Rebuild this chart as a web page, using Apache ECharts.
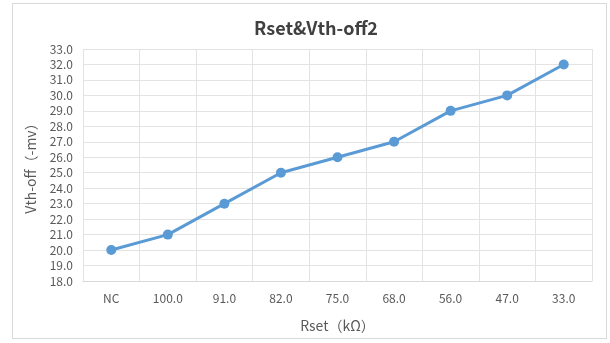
<!DOCTYPE html>
<html>
<head>
<meta charset="utf-8">
<style>
  html, body { margin: 0; padding: 0; background: #fff; }
  #frame { position: absolute; left: 12px; top: 3px; width: 595px; height: 336px; border: 1px solid #d9d9d9; box-sizing: border-box; }
  #chart { position: absolute; left: 0; top: 0; width: 610px; height: 343px; }
</style>
<script src="https://cdn.jsdelivr.net/npm/echarts@6/dist/echarts.min.js"></script>
</head>
<body>
<div id="frame"></div>
<div id="chart"></div>
<script>
// Rset settings (kΩ) along the x axis, NC = not connected
const rsetLabels = ['NC', '100.0', '91.0', '82.0', '75.0', '68.0', '56.0', '47.0', '33.0'];
// Measured Vth-off magnitude (-mV) for each Rset
const vthOff = [20, 21, 23, 25, 26, 27, 29, 30, 32];

const chartTitle = 'Rset&Vth-off2';
const xName = 'Rset（kΩ）';
const yName = 'Vth-off（-mv）';

const font = '"Noto Sans CJK SC", "Noto Sans", sans-serif';
const chart = echarts.init(document.getElementById('chart'), null, { renderer: 'canvas' });

chart.setOption({
  animation: false,
  textStyle: { fontFamily: font },
  title: {
    text: chartTitle,
    left: 311,
    textAlign: 'center',
    top: 14,
    textStyle: { fontSize: 18, fontWeight: 'bold', color: '#404040', fontFamily: font }
  },
  grid: { left: 83, right: 18, top: 49, bottom: 62 },
  xAxis: {
    type: 'category',
    data: rsetLabels,
    boundaryGap: true,
    name: xName,
    nameLocation: 'middle',
    nameGap: 38,
    nameTextStyle: { fontSize: 14, color: '#595959', fontFamily: font },
    axisLine: { lineStyle: { color: '#d9d9d9' } },
    axisTick: { show: false },
    axisLabel: { fontSize: 12, color: '#595959', margin: 11, fontFamily: font },
    splitLine: { show: true, lineStyle: { color: '#e3e3e3' } }
  },
  yAxis: {
    type: 'value',
    min: 18,
    max: 33,
    interval: 1,
    name: yName,
    nameLocation: 'middle',
    nameGap: 45,
    nameTextStyle: { fontSize: 14, color: '#595959', fontFamily: font },
    axisLine: { show: false },
    axisTick: { show: false },
    axisLabel: {
      fontSize: 12, color: '#595959', margin: 10, fontFamily: font,
      formatter: v => v.toFixed(1)
    },
    splitLine: { show: true, lineStyle: { color: '#e3e3e3' } }
  },
  series: [{
    type: 'line',
    data: vthOff,
    symbol: 'circle',
    symbolSize: 10,
    lineStyle: { color: '#5b9bd5', width: 3 },
    itemStyle: { color: '#5b9bd5' }
  }]
});
</script>
</body>
</html>
